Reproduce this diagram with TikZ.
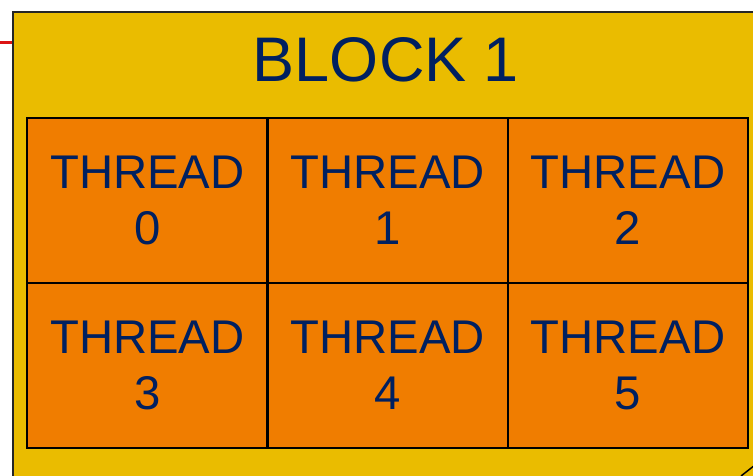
\documentclass[tikz,border=0pt]{standalone}
\usepackage{fontspec}
\setmainfont{Liberation Sans}
\definecolor{blockyellow}{RGB}{234,188,0}
\definecolor{threadorange}{RGB}{240,125,0}
\definecolor{textnavy}{RGB}{0,32,96}
\definecolor{linkred}{RGB}{220,20,20}
\tikzset{
  cell/.style={draw=black, line width=2.4pt, fill=threadorange, minimum width=240.33pt, minimum height=165pt, inner sep=0pt, anchor=north west},
  celltext/.style={text=textnavy, align=center, inner sep=0pt, font=\fontsize{47.3}{56}\selectfont},
  blockbox/.style={draw=black!85, line width=2.4pt, fill=blockyellow},
}
\begin{document}
\begin{tikzpicture}[x=1pt, y=-1pt]
\useasboundingbox (0,0) rectangle (753,475);
\coordinate (redstart) at (0,42);
\coordinate (redend) at (13,42);
\draw[linkred, line width=3pt] (redstart) -- (redend);
\draw[blockbox] (13,12) rectangle (770,490);
\node[text=textnavy, font=\fontsize{63}{70}\selectfont, inner sep=0pt, anchor=base] (title) at (386,81) {BLOCK 1};
\foreach \i/\c/\r in {0/0/0,1/1/0,2/2/0,3/0/1,4/1/1,5/2/1} {
  \node[cell] (c\i) at ({26+240.33*\c},{117+165*\r}) {};
  \node[celltext] (t\i) at (c\i.center) {THREAD\\\i};
}
\coordinate (da) at (741,476);
\coordinate (db) at (755,465);
\draw[black, line width=1.5pt] (da) -- (db);
\end{tikzpicture}
\end{document}
